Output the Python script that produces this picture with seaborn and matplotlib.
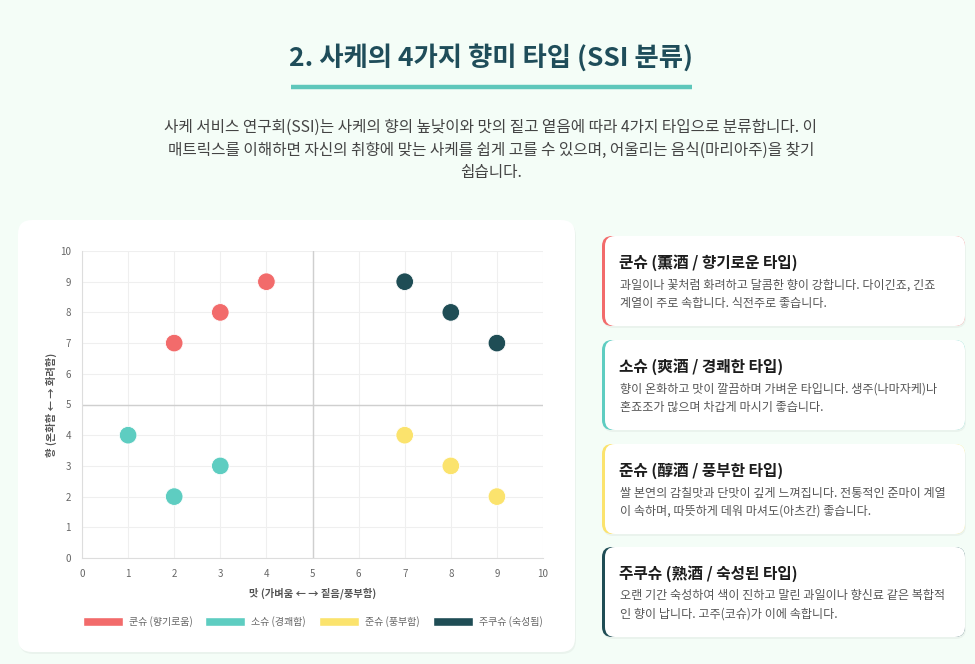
import seaborn as sns
import matplotlib.pyplot as plt
import pandas as pd
from matplotlib.patches import FancyBboxPatch, Patch

# 데이터
types = ['쿤슈 (향기로움)', '소슈 (경쾌함)', '준슈 (풍부함)', '주쿠슈 (숙성됨)']
colors = ['#f26b6b', '#5ecdc1', '#fbe36d', '#1f4d55']
taste = {
    '쿤슈 (향기로움)': [2, 3, 4],
    '소슈 (경쾌함)': [1, 2, 3],
    '준슈 (풍부함)': [7, 8, 9],
    '주쿠슈 (숙성됨)': [7, 8, 9],
}
aroma = {
    '쿤슈 (향기로움)': [7, 8, 9],
    '소슈 (경쾌함)': [4, 2, 3],
    '준슈 (풍부함)': [4, 3, 2],
    '주쿠슈 (숙성됨)': [9, 8, 7],
}
ticks = list(range(0, 11))

card_titles = ['쿤슈 (薫酒 / 향기로운 타입)', '소슈 (爽酒 / 경쾌한 타입)',
               '준슈 (醇酒 / 풍부한 타입)', '주쿠슈 (熟酒 / 숙성된 타입)']
card_texts = [
    ['과일이나 꽃처럼 화려하고 달콤한 향이 강합니다. 다이긴죠, 긴죠', '계열이 주로 속합니다. 식전주로 좋습니다.'],
    ['향이 온화하고 맛이 깔끔하며 가벼운 타입니다. 생주(나마자케)나', '혼죠조가 많으며 차갑게 마시기 좋습니다.'],
    ['쌀 본연의 감칠맛과 단맛이 깊게 느껴집니다. 전통적인 준마이 계열', '이 속하며, 따뜻하게 데워 마셔도(아츠칸) 좋습니다.'],
    ['오랜 기간 숙성하여 색이 진하고 말린 과일이나 향신료 같은 복합적', '인 향이 납니다. 고주(코슈)가 이에 속합니다.'],
]

rows = []
for t in types:
    for x, y in zip(taste[t], aroma[t]):
        rows.append({'type': t, 'taste': x, 'aroma': y})
df = pd.DataFrame(rows)

sns.set_style('white')
plt.rcParams['font.family'] = ['Noto Sans CJK KR', 'DejaVu Sans']

W, H = 975, 664
fig = plt.figure(figsize=(9.75, 6.64), dpi=100)
fig.patch.set_facecolor('#f4fdf7')

# 배경 레이아웃 (픽셀 좌표)
bg = fig.add_axes([0, 0, 1, 1], zorder=0)
bg.set_xlim(0, W)
bg.set_ylim(H, 0)
bg.axis('off')

bg.text(491, 58, '2. 사케의 4가지 향미 타입 (SSI 분류)', ha='center', va='center',
        fontsize=19, fontweight='bold', color='#1f4d5a')
bg.plot([291, 692], [87, 87], color='#5ec7bb', lw=3.2, solid_capstyle='butt')
intro = ['사케 서비스 연구회(SSI)는 사케의 향의 높낮이와 맛의 짙고 옅음에 따라 4가지 타입으로 분류합니다. 이',
         '매트릭스를 이해하면 자신의 취향에 맞는 사케를 쉽게 고를 수 있으며, 어울리는 음식(마리아주)을 찾기',
         '쉽습니다.']
for i, line in enumerate(intro):
    bg.text(491, 127 + i * 23, line, ha='center', va='center', fontsize=11.3, color='#444444')

def card(x, y, w, h, r, face, shadow=True):
    if shadow:
        bg.add_patch(FancyBboxPatch((x + 1, y + 2), w, h, boxstyle=f'round,pad=0,rounding_size={r}',
                                    fc='#000000', ec='none', alpha=0.04))
    p = FancyBboxPatch((x, y), w, h, boxstyle=f'round,pad=0,rounding_size={r}', fc=face, ec='none')
    bg.add_patch(p)

card(18, 220, 557, 432, 14, 'white')

card_y = [236, 340, 444, 547]
for i in range(4):
    y0 = card_y[i]
    card(602, y0, 363, 90, 10, colors[i])
    card(605, y0, 360, 90, 10, 'white', shadow=False)
    bg.text(619, y0 + 27, card_titles[i], ha='left', va='center',
            fontsize=11.3, fontweight='bold', color='#1d1d1d')
    for j, line in enumerate(card_texts[i]):
        bg.text(620, y0 + 49 + j * 18.5, line, ha='left', va='center',
                fontsize=8.7, color='#555555')

# 산점도
ax = fig.add_axes([82 / W, 1 - 558 / H, 461 / W, 307 / H], zorder=1)
ax.set_facecolor('white')
sns.scatterplot(data=df, x='taste', y='aroma', hue='type', hue_order=types,
                palette=colors, s=160, edgecolor='white', linewidth=0.6,
                legend=False, ax=ax, zorder=3)
ax.set_xlim(0, 10)
ax.set_ylim(0, 10)
ax.set_xticks(ticks)
ax.set_yticks(ticks)
ax.grid(True, color='#efefef', lw=0.8)
ax.axvline(5, color='#cfcfcf', lw=1)
ax.axhline(5, color='#cfcfcf', lw=1)
for s in ax.spines.values():
    s.set_visible(False)
ax.spines['left'].set_visible(True)
ax.spines['bottom'].set_visible(True)
ax.spines['left'].set_color('#dddddd')
ax.spines['bottom'].set_color('#dddddd')
ax.tick_params(labelsize=7, colors='#666666', length=4, color='#eeeeee', pad=4)
ax.set_xlabel('맛 (가벼움 ← → 짙음/풍부함)', fontsize=7.4, fontweight='bold', color='#555555', labelpad=6)
ax.set_ylabel('향 (온화함 ← → 화려함)', fontsize=7.4, fontweight='bold', color='#555555', labelpad=2)

handles = [Patch(facecolor=c, edgecolor='white', label=t) for t, c in zip(types, colors)]
ax.legend(handles=handles, loc='upper center', bbox_to_anchor=(0.5, -0.16), ncol=4,
          frameon=False, fontsize=7.2, handlelength=4.0, handleheight=1.1,
          columnspacing=1.3, handletextpad=0.6, labelcolor='#666666')

fig.savefig('out.png', dpi=100, facecolor=fig.get_facecolor())
